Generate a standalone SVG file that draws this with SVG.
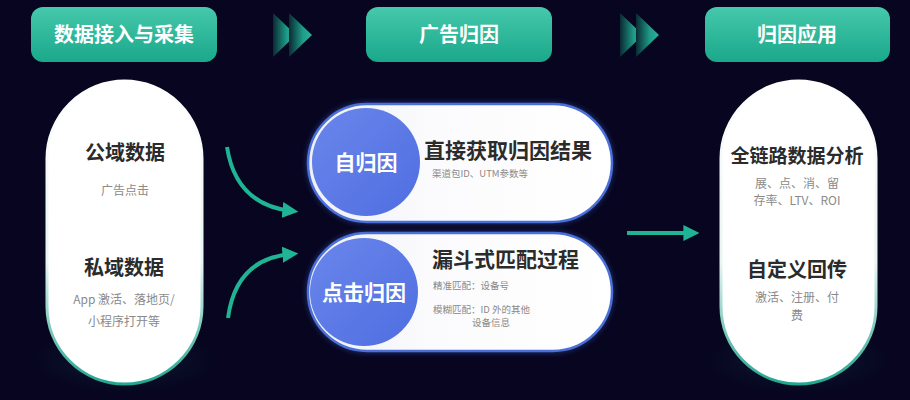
<svg xmlns="http://www.w3.org/2000/svg" width="910" height="400" viewBox="0 0 910 400">
<defs>
<linearGradient id="hdr" x1="0" y1="0" x2="0" y2="1"><stop offset="0" stop-color="#46c8ab"/><stop offset="1" stop-color="#1aa88b"/></linearGradient>
<linearGradient id="chev" x1="0" y1="0" x2="1" y2="0"><stop offset="0" stop-color="#0a2a33"/><stop offset="0.6" stop-color="#1e9c88"/><stop offset="1" stop-color="#2bb39a"/></linearGradient>
<linearGradient id="pillStroke" x1="0" y1="0" x2="0" y2="1"><stop offset="0" stop-color="#ffffff"/><stop offset="0.6" stop-color="#e8f5f2"/><stop offset="1" stop-color="#22a68e"/></linearGradient>
<linearGradient id="circ" x1="0" y1="0" x2="1" y2="1"><stop offset="0" stop-color="#6a86ec"/><stop offset="1" stop-color="#4f6ee0"/></linearGradient>
<linearGradient id="midFill" x1="0" y1="0" x2="1" y2="0"><stop offset="0" stop-color="#eef0f6"/><stop offset="0.4" stop-color="#fbfbfd"/><stop offset="1" stop-color="#ffffff"/></linearGradient>
<radialGradient id="glow" cx="0.5" cy="0.5" r="0.5"><stop offset="0" stop-color="#1a4a5a" stop-opacity="0.55"/><stop offset="1" stop-color="#07051f" stop-opacity="0"/></radialGradient>
<filter id="shadow" x="-20%" y="-20%" width="140%" height="140%"><feGaussianBlur stdDeviation="3"/></filter>
<marker id="ah" viewBox="0 0 10 10" refX="6" refY="5" markerWidth="4" markerHeight="4" orient="auto"><path d="M0,0 L10,5 L0,10 z" fill="#1fb495"/></marker>
</defs>
<style>
.hdrt{font-family:"Noto Sans CJK SC","Noto Sans",sans-serif;font-weight:700;font-size:20px;fill:#ffffff;text-anchor:middle}
.ttl{font-family:"Noto Sans CJK SC","Noto Sans",sans-serif;font-weight:700;font-size:20px;fill:#2b2b2b;text-anchor:middle}
.sub{font-family:"Noto Sans CJK SC","Noto Sans",sans-serif;font-size:12px;fill:#8a8a8a;text-anchor:middle}
.mt{font-family:"Noto Sans CJK SC","Noto Sans",sans-serif;font-weight:700;font-size:21px;fill:#2b2b2b}
.ms{font-family:"Noto Sans CJK SC","Noto Sans",sans-serif;font-size:9.5px;fill:#8a8a8a}
.ct{font-family:"Noto Sans CJK SC","Noto Sans",sans-serif;font-weight:700;font-size:21px;fill:#ffffff;text-anchor:middle}
.conn{fill:none;stroke:#1fb495;stroke-width:4}
</style>
<rect width="910" height="400" fill="#07051f"/>
<ellipse cx="124" cy="360" rx="110" ry="40" fill="url(#glow)"/>
<ellipse cx="798" cy="360" rx="110" ry="40" fill="url(#glow)"/>

<g id="hdr1"><rect x="31" y="7" width="186" height="55" rx="12" fill="url(#hdr)"/><text class="hdrt" x="124" y="42">数据接入与采集</text></g>
<g id="hdr2"><rect x="366" y="7" width="186" height="55" rx="12" fill="url(#hdr)"/><text class="hdrt" x="459" y="42">广告归因</text></g>
<g id="hdr3"><rect x="705" y="7" width="185" height="55" rx="12" fill="url(#hdr)"/><text class="hdrt" x="797" y="42">归因应用</text></g>

<g id="chev1"><polygon points="273,13 296,35 273,57" fill="url(#chev)"/><polygon points="289,13 312,35 289,57" fill="url(#chev)"/></g>
<g id="chev2"><polygon points="620,13 643,35 620,57" fill="url(#chev)"/><polygon points="636,13 659,35 636,57" fill="url(#chev)"/></g>

<g id="left">
<rect x="47" y="81" width="155" height="303" rx="77.5" fill="#ffffff" stroke="url(#pillStroke)" stroke-width="3"/>
<text class="ttl" x="125" y="160">公域数据</text>
<text class="sub" x="125" y="195">广告点击</text>
<text class="ttl" x="124" y="275">私域数据</text>
<text class="sub" x="124" y="304">App 激活、落地页/</text>
<text class="sub" x="124" y="326">小程序打开等</text>
</g>

<g id="mid1">
<rect x="307" y="103" width="306" height="120" rx="60" fill="#3c5fc8" opacity="0.6" filter="url(#shadow)"/>
<rect x="308" y="104" width="304" height="118" rx="59" fill="url(#midFill)" stroke="#4a6fd8" stroke-width="2.5"/>
<circle cx="366" cy="162" r="54" fill="url(#circ)"/>
<text class="ct" x="366" y="170">自归因</text>
<text class="mt" x="424" y="158">直接获取归因结果</text>
<text class="ms" x="432" y="177">渠道包ID、UTM参数等</text>
</g>

<g id="mid2">
<rect x="307" y="232" width="306" height="120" rx="60" fill="#3c5fc8" opacity="0.6" filter="url(#shadow)"/>
<rect x="308" y="233" width="304" height="118" rx="59" fill="url(#midFill)" stroke="#4a6fd8" stroke-width="2.5"/>
<circle cx="364" cy="292" r="54" fill="url(#circ)"/>
<text class="ct" x="364" y="300">点击归因</text>
<text class="mt" x="432" y="267">漏斗式匹配过程</text>
<text class="ms" x="433" y="289">精准匹配：设备号</text>
<text class="ms" x="433" y="313">模糊匹配：ID 外的其他</text>
<text class="ms" x="472" y="326">设备信息</text>
</g>

<g id="right">
<rect x="721" y="81" width="155" height="303" rx="77.5" fill="#ffffff" stroke="url(#pillStroke)" stroke-width="3"/>
<text class="ttl" x="797" y="163" style="font-size:19px">全链路数据分析</text>
<text class="sub" x="797" y="188">展、点、消、留</text>
<text class="sub" x="797" y="205">存率、LTV、ROI</text>
<text class="ttl" x="797" y="277">自定义回传</text>
<text class="sub" x="797" y="302">激活、注册、付</text>
<text class="sub" x="797" y="320">费</text>
</g>

<g id="connectors">
<path class="conn" d="M227,147 Q236,205 292,211" marker-end="url(#ah)"/>
<path class="conn" d="M228,318 Q236,258 292,254" marker-end="url(#ah)"/>
<path class="conn" d="M627,233 L693,233" marker-end="url(#ah)"/>
</g>
</svg>
